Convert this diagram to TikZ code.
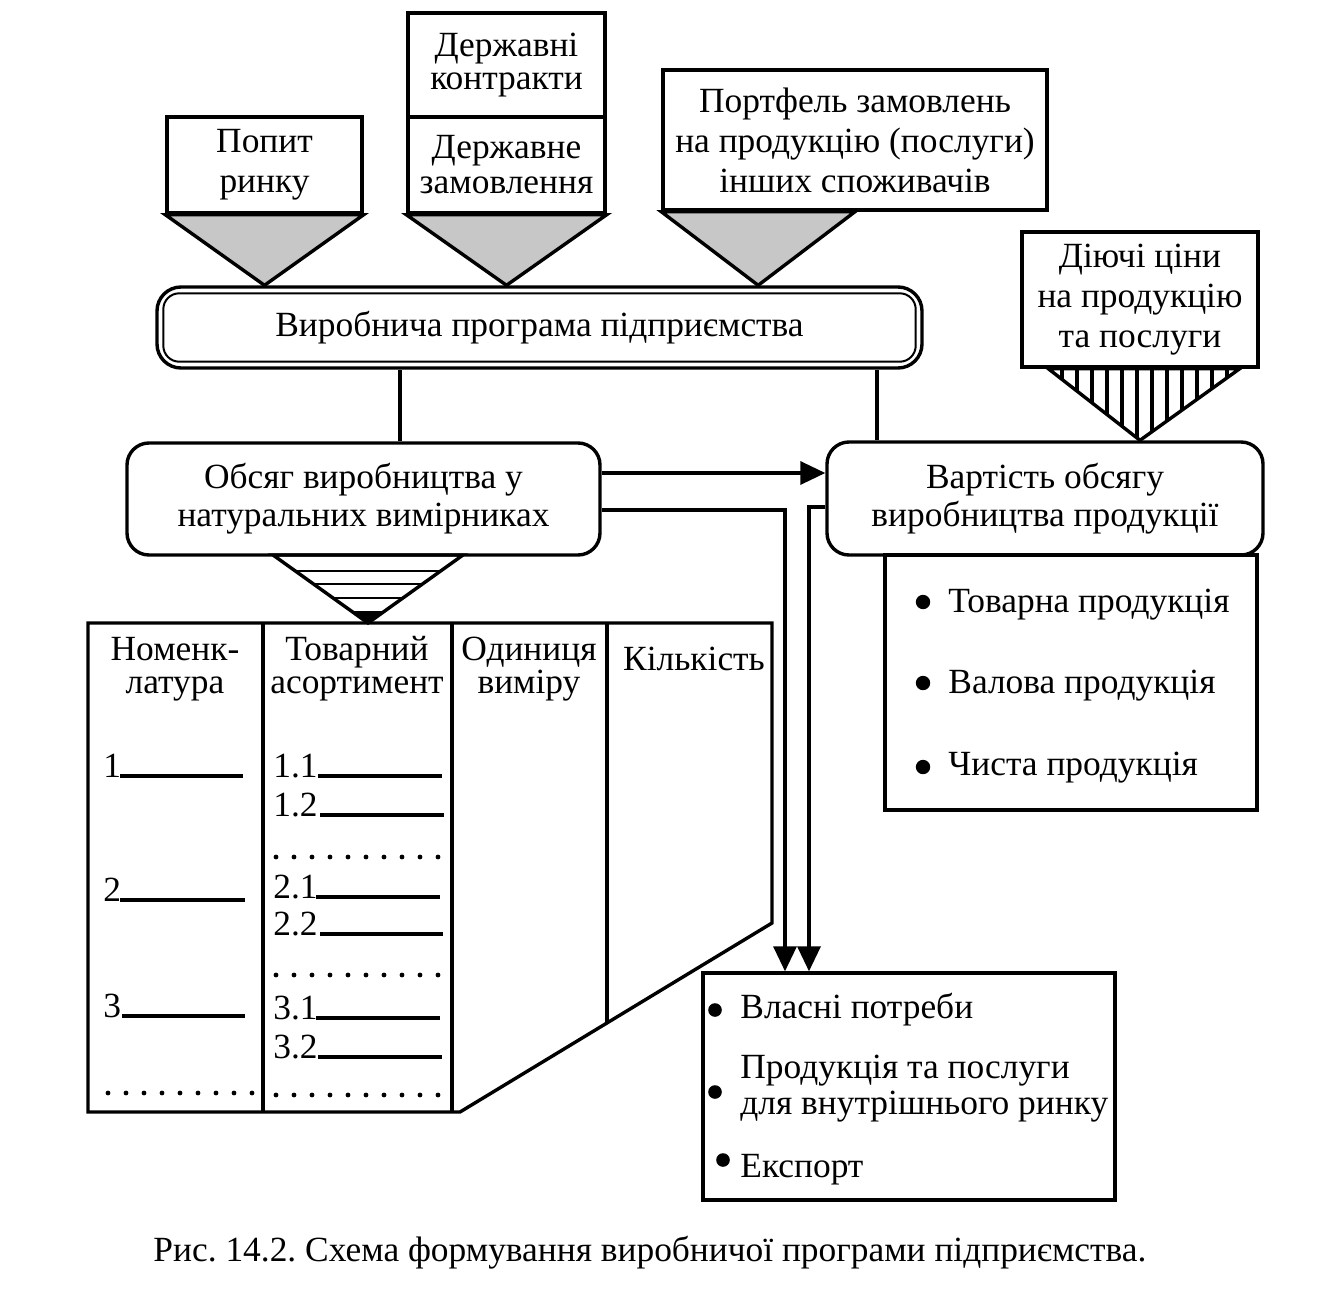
\documentclass[tikz,border=0pt]{standalone}
\usepackage{fontspec}
\setmainfont{Liberation Serif}
\usetikzlibrary{arrows.meta,calc}
\newcommand\fsz{\fontsize{17.7pt}{20pt}\selectfont}
\newcommand\fszt{\fontsize{17.7pt}{16.5pt}\selectfont}
\frenchspacing
\begin{document}
\begin{tikzpicture}[x=0.5pt,y=-0.5pt,
 box/.style={draw,line width=1.7pt,inner sep=0pt,align=center,font=\fsz},
 rbox/.style={box,rounded corners=11pt},
 lbl/.style={inner sep=0pt,font=\fsz,anchor=base west},
 hdr/.style={inner sep=0pt,font=\fszt,align=center},
 conn/.style={line width=1.7pt},
 arr/.style={conn,-{Triangle[length=12.5pt,width=11.5pt]}},
 tri/.style={draw,line width=1.7pt,fill=black!22,line join=miter},
 bul/.style={fill=black},
 uline/.style={line width=1.8pt},
 dotm/.style={fill=black},
]
\useasboundingbox (0,0) rectangle (1322,1295);

% top boxes
\node[box,minimum width=97.5pt,minimum height=48pt] (popit) at (264.5,165) {Попит\\ринку};
\node[box,minimum width=98.5pt,minimum height=52pt,font=\fontsize{17.7pt}{16.5pt}\selectfont] (dk) at (506.5,65) {Державні\\контракти};
\node[box,minimum width=98.5pt,minimum height=48pt,font=\fontsize{17.7pt}{17.5pt}\selectfont] (dz) at (506.5,165) {Державне\\замовлення};
\node[box,minimum width=192pt,minimum height=70pt] (port) at (855,140) {Портфель замовлень\\на продукцію (послуги)\\інших споживачів};

% production programme
\node[box,rounded corners=12pt,minimum width=382.5pt,minimum height=40.5pt] (prog) at (539.5,327.5) {Виробнича програма підприємства};
\draw[line width=1pt,rounded corners=8pt] ([shift={(4pt,-4pt)}]prog.north west) rectangle ([shift={(-4pt,4pt)}]prog.south east);

% triangles above programme
\draw[tri] (popit.south west) -- (popit.south east) -- (popit.south |- prog.north) -- cycle;
\draw[tri] (dz.south west) -- (dz.south east) -- (dz.south |- prog.north) -- cycle;
\coordinate (pm) at ($(port.south west)!0.5!(port.south)$);
\draw[tri] (port.south west) -- (port.south) -- (pm |- prog.north) -- cycle;

% prices box
\node[box,minimum width=118pt,minimum height=67.5pt] (diy) at (1140,299.5) {Діючі ціни\\на продукцію\\та послуги};

% second level boxes
\node[rbox,minimum width=236.5pt,minimum height=56pt,font=\fontsize{17.7pt}{19pt}\selectfont] (obs) at (363.5,499) {Обсяг виробництва у\\натуральних вимірниках};
\node[rbox,minimum width=218pt,minimum height=56.5pt,font=\fontsize{17.7pt}{19pt}\selectfont] (vart) at (1045,498.5) {Вартість обсягу\\виробництва продукції};

% striped triangle under prices
\coordinate (dl) at ([xshift=14pt]diy.south west);
\coordinate (dr) at ([xshift=-10pt]diy.south east);
\coordinate (da) at (diy.south |- vart.north);
\begin{scope}
\clip (dl) -- (dr) -- (da) -- cycle;
\foreach \x in {1047,1062,...,1245} \draw[line width=2pt] (\x,360) -- (\x,445);
\end{scope}
\draw[conn,line join=miter] (dl) -- (dr) -- (da) -- cycle;

% list boxes
\node[box,minimum width=186pt,minimum height=127.5pt] (l1) at (1071,682.5) {};
\node[box,minimum width=206pt,minimum height=113.5pt] (l2) at (909,1086.5) {};

% connectors
\draw[conn] ([xshift=18.25pt]obs.north) -- ([xshift=18.25pt]obs.north |- prog.south);
\draw[conn] ([xshift=-84pt]vart.north) -- ([xshift=-84pt]vart.north |- prog.south);
\draw[arr] ([yshift=13pt]obs.east) -- ([yshift=13pt]obs.east -| vart.west);
\draw[arr] ([yshift=-5.5pt]obs.east) -| ([xshift=-62pt]l2.north);
\draw[arr] ([yshift=-4.25pt]vart.west) -| ([xshift=-50pt]l2.north);

% middle striped triangle
\coordinate (ml) at (273,555);
\coordinate (mr) at (463,555);
\coordinate (ma) at (368,623);
\begin{scope}
\clip (ml) -- (mr) -- (ma) -- cycle;
\foreach \y in {571,584,598} \draw[line width=1.4pt] (250,\y) -- (480,\y);
\fill (250,611) rectangle (480,630);
\end{scope}
\draw[conn,line join=miter] (ml) -- (mr) -- (ma) -- cycle;

% table
\draw[conn,line join=miter] (88,623) -- (772,623) -- (772,923) -- (460,1112) -- (88,1112) -- cycle;
\draw[conn] (263,623) -- (263,1112);
\draw[conn] (452,623) -- (452,1112);
\draw[conn] (607,623) -- (607,1023);

\node[hdr] (h1) at (175,669) {Номенк-\\латура};
\node[hdr] (h2) at (357,669) {Товарний\\асортимент};
\node[hdr] (h3) at (529,669) {Одиниця\\виміру};
\node[hdr] (h4) at (694,659) {Кількість};

\node[lbl] (n1) at (103,777) {1};
\draw[uline] (120,776) -- (243,776);
\node[lbl] (n2) at (103,901) {2};
\draw[uline] (120,900) -- (245,900);
\node[lbl] (n3) at (103,1017) {3};
\draw[uline] (122,1016) -- (245,1016);
\foreach \x in {108,126,...,252} \fill[dotm] (\x,1093) circle[radius=1.2pt];

\node[lbl] (a11) at (273,777) {1.1};
\draw[uline] (318,776) -- (442,776);
\node[lbl] (a12) at (273,816) {1.2};
\draw[uline] (320,815) -- (444,815);
\foreach \x in {276,294,...,438} \fill[dotm] (\x,857) circle[radius=1.2pt];
\node[lbl] (a21) at (273,898) {2.1};
\draw[uline] (316,897) -- (440,897);
\node[lbl] (a22) at (273,935) {2.2};
\draw[uline] (320,934) -- (443,934);
\foreach \x in {276,294,...,438} \fill[dotm] (\x,975) circle[radius=1.2pt];
\node[lbl] (a31) at (273,1019) {3.1};
\draw[uline] (316,1018) -- (440,1018);
\node[lbl] (a32) at (273,1058) {3.2};
\draw[uline] (318,1057) -- (442,1057);
\foreach \x in {276,294,...,438} \fill[dotm] (\x,1095) circle[radius=1.2pt];

% list 1 contents
\fill[bul] (923,602) circle[radius=3.6pt];
\node[lbl] (t1) at (948,612) {Товарна продукція};
\fill[bul] (923,683) circle[radius=3.6pt];
\node[lbl] (t2) at (948,693) {Валова продукція};
\fill[bul] (923,767) circle[radius=3.6pt];
\node[lbl] (t3) at (948,775) {Чиста продукція};

% list 2 contents
\fill[bul] (715,1010) circle[radius=3.4pt];
\node[lbl] (u1) at (740,1018) {Власні потреби};
\fill[bul] (715,1092) circle[radius=3.4pt];
\node[inner sep=0pt,anchor=west,align=left,font=\fontsize{17.7pt}{18pt}\selectfont] (u2) at (740,1089) {Продукція та послуги\\для внутрішнього ринку};
\fill[bul] (723,1160) circle[radius=3.4pt];
\node[lbl] (u3) at (740,1177) {Експорт};

% caption
\node[font=\fsz,inner sep=0pt] (cap) at (650,1253) {Рис. 14.2. Схема формування виробничої програми підприємства.};
\end{tikzpicture}
\end{document}
